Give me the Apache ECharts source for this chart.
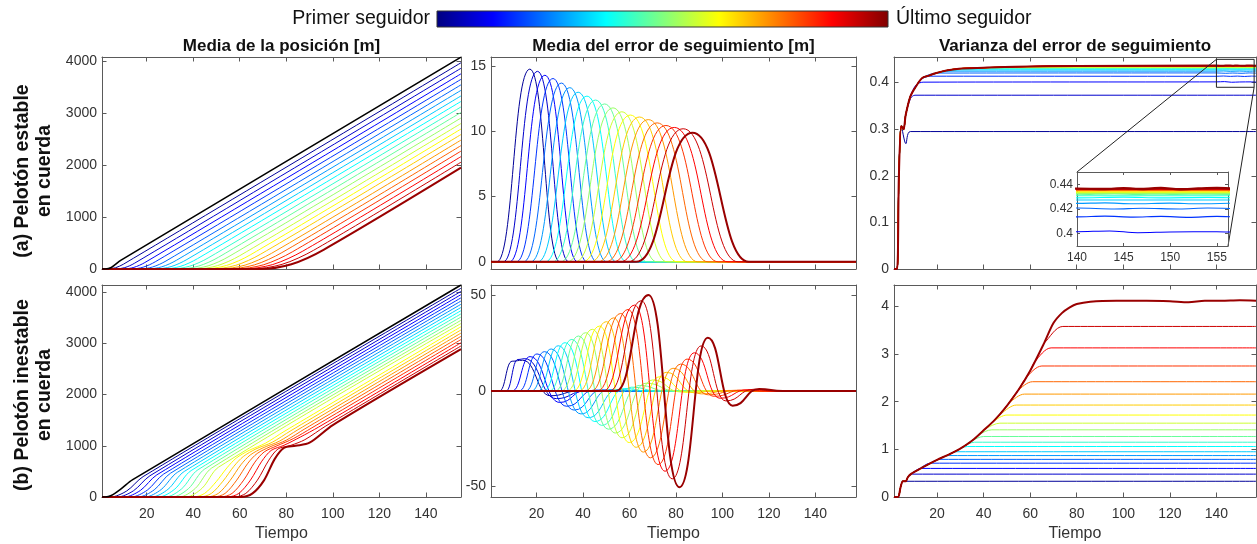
<!DOCTYPE html>
<html>
<head>
<meta charset="utf-8">
<script src="https://cdn.jsdelivr.net/npm/echarts@6/dist/echarts.min.js"></script>
<style>
html,body{margin:0;padding:0;background:#fff;}
#c{width:1257px;height:544px;}
</style>
</head>
<body>
<div id="c"></div>
<script>
// ---------- data ----------
// follower colours (jet, 20 levels) and leader colour
const followerColors = ['#000099','#0000cc','#0000ff','#0033ff','#0066ff','#0099ff','#00ccff','#00ffff','#33ffcc','#66ff99','#99ff66','#ccff33','#ffff00','#ffcc00','#ff9900','#ff6600','#ff3300','#ff0000','#cc0000','#990000'];
const leaderColor = '#000000';
const timeTicks = [20, 40, 60, 80, 100, 120, 140];

// (a) mean position: leader path; per follower departure, knee, start of the straight part and final value
const posA_leader = [[2.2,0],[4.8,30],[9,170],[155.1,4078]];
const posA_depart = [3.0,6.5,9.9,13.3,16.8,20.2,23.6,27.0,30.5,33.9,37.3,40.8,44.2,47.6,51.1,54.5,57.9,61.3,64.8,68.2];
const posA_midT = [6.6,10.6,14.5,18.5,22.5,26.5,30.5,34.4,38.4,42.4,46.4,50.4,54.3,58.3,62.3,66.3,70.3,74.2,78.2,82.2];
const posA_midV = [24,27,31,35,38,42,46,49,53,57,60,64,68,71,75,79,82,86,90,93];
const posA_linT = [10.1,14.7,19.2,23.7,28.3,32.8,37.3,41.8,46.4,50.9,55.4,60.0,64.5,69.0,73.6,78.1,82.6,87.1,91.7,96.2];
const posA_linV = [95,109,124,139,154,168,183,198,212,227,242,256,271,286,300,315,330,344,359,374];
const posA_end = [3969,3863,3756,3650,3544,3438,3331,3225,3119,3013,2906,2800,2694,2588,2481,2375,2269,2163,2056,1950];

// (b) mean position: leader and follower paths [t, m]
const posB_leader = [[2.2,0],[4.8,30],[9,160],[14,340],[155.1,4142]];
const posB = [
 [[4.45,0],[11.45,119],[18.45,398],[155.1,4079]],
 [[7.4,0],[14.4,124],[21.4,415],[155.1,4017]],
 [[10.35,0],[17.35,130],[24.35,432],[155.1,3954]],
 [[13.3,0],[20.3,135],[27.3,448],[155.1,3891]],
 [[16.25,0],[23.25,140],[30.25,465],[155.1,3829]],
 [[19.2,0],[26.2,145],[33.2,482],[155.1,3766]],
 [[22.15,0],[29.15,150],[36.15,499],[155.1,3703]],
 [[25.1,0],[32.1,155],[39.1,516],[155.1,3640]],
 [[28.05,0],[35.05,160],[42.05,533],[155.1,3578]],
 [[31.0,0],[38.0,165],[45.0,549],[155.1,3515]],
 [[33.95,0],[40.95,170],[47.95,566],[155.1,3452]],
 [[36.9,0],[43.9,175],[50.9,583],[155.1,3390]],
 [[39.9,0],[44.9,70],[49.9,300],[54.5,570],[58.5,760],[64,910],[71,1050],[79,1278],[155.1,3327]],
 [[42.8,0],[47.8,70],[52.8,310],[57.5,600],[61.5,790],[67,940],[74,1070],[82,1296],[155.1,3264]],
 [[45.8,0],[50.8,70],[55.8,320],[60.5,630],[64.5,820],[70,960],[77,1090],[85,1314],[155.1,3202]],
 [[48.7,0],[53.7,70],[58.7,330],[63.5,660],[67.5,850],[73,980],[80,1110],[88,1332],[155.1,3139]],
 [[51.7,0],[56.7,70],[61.7,330],[66.5,680],[70.5,880],[76,1000],[83,1140],[91,1351],[155.1,3076]],
 [[54.6,0],[59.6,70],[64.6,330],[69.5,700],[73.5,910],[79,1010],[86,1170],[94,1369],[155.1,3013]],
 [[57.6,0],[62.6,70],[67.6,330],[72.5,720],[76.5,940],[82,1010],[88,1120],[97,1387],[155.1,2951]],
 [[60.5,0],[65.5,70],[70.5,330],[75,740],[79,960],[84,1000],[90,1060],[100,1405],[155.1,2888]]
];

// (a) mean tracking error: one bump per follower
const errA_start = [2.9,5.7,8.4,11.3,14.4,17.5,20.6,23.8,27.0,30.4,33.4,36.7,39.9,43.3,46.5,49.8,53.1,56.1,59.4,62.9];
const errA_peakT = [17.1,20.4,23.6,27.1,30.7,34.3,37.9,41.7,45.4,49.3,52.9,56.7,60.4,64.3,68.1,71.9,75.7,79.3,83.1,87.1];
const errA_peakV = [14.77,14.6,14.3,14.05,13.7,13.35,13.0,12.7,12.4,12.1,11.8,11.5,11.25,11.1,10.9,10.65,10.45,10.3,10.2,9.9];
const errA_end = [30.0,33.9,37.7,41.8,46.0,50.2,54.4,58.8,63.1,67.6,71.8,76.2,80.5,85.0,89.4,93.8,98.2,102.4,106.8,111.4];

// (b) mean tracking error: turning points per follower [t, m]
const errB = [
 [[4.0,0],[9.5,15.6],[14.0,16.1],[26.0,-2.5],[38.0,0]],
 [[6.8,0],[12.0,16.5],[15.0,16.9],[28.5,-4.0],[41.0,0]],
 [[9.5,0],[17.2,18.0],[30.0,-6.0],[41.0,0.3],[48.0,0]],
 [[12.5,0],[20.2,19.4],[33.0,-8.0],[45.0,0.5],[55.0,0]],
 [[15.3,0],[23.4,20.6],[36.2,-10.0],[48.0,0.6],[58.0,0]],
 [[17.8,0],[26.3,22.0],[39.1,-12.0],[51.0,0.7],[61.0,0]],
 [[20.5,0],[29.4,23.7],[42.2,-14.0],[55.0,0.8],[65.0,0]],
 [[23.0,0],[32.3,25.3],[45.1,-16.0],[58.0,1.3],[68.0,0]],
 [[25.5,0],[35.2,27.0],[48.0,-18.0],[61.0,2.0],[72.0,0]],
 [[28.0,0],[38.1,28.8],[50.9,-20.0],[64.3,2.9],[76.0,0]],
 [[30.6,0],[41.1,30.5],[53.9,-22.0],[67.2,4.1],[80.0,0]],
 [[33.1,0],[44.0,32.3],[56.8,-24.5],[70.0,5.8],[82.0,-0.5],[88.0,0]],
 [[35.8,0],[47.1,34.0],[59.9,-27.0],[73.0,7.5],[85.0,-0.8],[92.0,0]],
 [[38.3,0],[50.0,36.3],[62.9,-29.5],[75.8,9.8],[88.0,-1.0],[96.0,0]],
 [[41.0,0],[53.2,38.3],[66.0,-32.0],[78.7,11.9],[91.0,-1.5],[103.0,0.3],[108.0,0]],
 [[43.6,0],[56.2,40.6],[69.0,-35.0],[82.0,14.1],[94.0,-2.0],[106.0,0.4],[111.0,0]],
 [[46.3,0],[59.4,42.7],[72.3,-38.5],[84.8,16.7],[96.5,-2.8],[108.5,0.5],[114.0,0]],
 [[48.8,0],[62.2,45.0],[75.3,-42.0],[87.9,20.0],[99.0,-3.8],[111.0,0.7],[118.0,0]],
 [[51.5,0],[65.1,47.3],[78.4,-46.0],[90.8,23.6],[101.5,-5.2],[113.5,0.9],[122.0,0]],
 [[54.3,0],[68.2,50.3],[81.5,-50.4],[93.7,27.9],[104.4,-7.7],[115.8,1.1],[126.0,0]]
];

// (a) tracking-error variance: common rise (last follower) and where each follower levels off
const varA_envT = [1.5,2.8,3.6,4.65,5.6,6.5,8.5,10.7,13.6,16.5,19.3,24,29.4,40,53.8,80,140,143,145,147,149,151,153,155,157];
const varA_envV = [0,0,0.2,0.307,0.30,0.33,0.37,0.39,0.41,0.415,0.42,0.426,0.43,0.432,0.434,0.4355,0.4365,0.4362,0.4368,0.4362,0.4370,0.4360,0.4366,0.4370,0.4364];
const varA_branchT = [4.65,6.5,8.5,10.7,13.6,16.5,19.3,24,24,29.4,29.4,40,40,40,53.8,53.8,53.8,53.8,53.8];
const varA_tails = [
 [[6.6,0.269],[8.5,0.295],[157,0.295]],
 [[8.6,0.366],[10.5,0.373],[157,0.373]],
 [[11.0,0.395],[14.0,0.401],[140,0.4016],[143.5,0.4022],[146.5,0.4008],[150,0.4014],[155,0.4016],[157,0.4012]],
 [[13.5,0.408],[17.0,0.4138],[140,0.4136],[143,0.4142],[146,0.4134],[149,0.4140],[152,0.4132],[155,0.4140],[157,0.4136]],
 [[20.0,0.4205],[140,0.4208],[144,0.4200],[147,0.4206],[151,0.4200],[154,0.4208],[157,0.4203]],
 [[25.0,0.4246],[140,0.4246],[143,0.4250],[146,0.4242],[150,0.4248],[153,0.4242],[157,0.4248]],
 [[30.0,0.4273],[157,0.4273]],
 [[35.0,0.4292],[140,0.4290],[145,0.4296],[149,0.4290],[154,0.4294],[157,0.4291]],
 [[40.0,0.4308],[157,0.4308]],
 [[45.0,0.4318],[140,0.4316],[144,0.4322],[148,0.4315],[152,0.4320],[157,0.4317]],
 [[50.0,0.4327],[157,0.4327]],
 [[55.0,0.4334],[157,0.4334]],
 [[60.0,0.434],[157,0.434]],
 [[65.0,0.4346],[157,0.4346]],
 [[70.0,0.435],[157,0.435]],
 [[75.0,0.4354],[157,0.4354]],
 [[75.0,0.4357],[157,0.4357]],
 [[75.0,0.436],[157,0.436]],
 [[75.0,0.4362],[157,0.4362]]
];

// (b) tracking-error variance: common rise (last follower) and plateau of each follower
const varB_envT = [1.5,3.2,4.3,5.3,6.5,7.5,9,12.6,16,20,25,29.8,35,39.8,45,49.9,55,60,65.7,70,73.6,77,80,85.8,97,110,120,128,135,142,150,157];
const varB_envV = [0,0,0.2,0.33,0.33,0.42,0.49,0.59,0.68,0.78,0.89,1.01,1.18,1.39,1.63,1.91,2.25,2.65,3.2,3.65,3.86,3.98,4.05,4.10,4.12,4.12,4.11,4.09,4.12,4.12,4.13,4.12];
const varB_branchT = [5.3,7.5,10,13.5,17,20.5,24,28,31,34.5,38,41,44,47.5,51,54.5,58,62,66];
const varB_branchV = [0.33,0.42,0.53,0.63,0.71,0.79,0.87,0.96,1.05,1.17,1.31,1.44,1.58,1.75,1.98,2.22,2.49,2.84,3.23];
const varB_flatT = [6.0,9.5,13,17,21,25,28.5,33,36,40,43.5,47,50,54,57.5,61,65,69,74];
const varB_level = [0.33,0.48,0.60,0.71,0.79,0.87,0.95,1.06,1.15,1.27,1.41,1.55,1.72,1.93,2.16,2.42,2.75,3.13,3.58];

// ---------- layout ----------
const FONT = '"Liberation Sans", Arial, Helvetica, sans-serif';
const AXC = '#5a5a5a';
const TXC = '#333333';

const panels = [
 {box:{left:102, top:57, width:359, height:212}, x:[0.8,155.1], y:[0,4080], xt:timeTicks, yt:[0,1000,2000,3000,4000], xl:false},
 {box:{left:491, top:57, width:365, height:212}, x:[0.4,157.5], y:[-0.55,15.7], xt:timeTicks, yt:[0,5,10,15], xl:false},
 {box:{left:894, top:57, width:362, height:212}, x:[1.5,157], y:[0,0.455], xt:timeTicks, yt:[0,0.1,0.2,0.3,0.4], xl:false},
 {box:{left:102, top:285, width:359, height:212}, x:[0.8,155.1], y:[0,4142], xt:timeTicks, yt:[0,1000,2000,3000,4000], xl:true},
 {box:{left:491, top:285, width:365, height:212}, x:[0.4,157.5], y:[-55.5,55.5], xt:timeTicks, yt:[-50,0,50], xl:true},
 {box:{left:894, top:285, width:362, height:212}, x:[1.5,157], y:[0,4.45], xt:timeTicks, yt:[0,1,2,3,4], xl:true},
 {box:{left:1077, top:172, width:151, height:74}, x:[140,156.2], y:[0.39,0.45], xt:[140,145,150,155], yt:[0.4,0.42,0.44], xl:true, inset:true}
];

const plainNumber = v => String(+Number(v).toFixed(6));

const grid = [], xAxis = [], yAxis = [], series = [];
panels.forEach((p, g) => {
  const zl = p.inset ? 1 : 0;
  const gd = Object.assign({containLabel:false, zlevel:zl}, p.box);
  if (p.inset) { gd.show = true; gd.backgroundColor = '#ffffff'; gd.borderWidth = 0; }
  grid.push(gd);
  const tickLen = p.inset ? 3 : 4.5;
  const fs = p.inset ? 12 : 14;
  const mk = (dim, ticks, range, pos, labels, name) => ({
    type:'value', gridIndex:g, min:range[0], max:range[1], position:pos, zlevel:zl,
    splitLine:{show:false},
    axisLine:{show:true, onZero:false, lineStyle:{color:AXC, width:1}},
    axisTick:{show:true, inside:true, length:tickLen, customValues:ticks, lineStyle:{color:AXC, width:1}},
    axisLabel:{show:labels, customValues:ticks, formatter:plainNumber, color:TXC, fontFamily:FONT, fontSize:fs,
               margin: dim === 'x' ? (p.inset ? 6 : 10) : (p.inset ? 4 : 5)},
    name: name || '', nameLocation:'middle', nameGap:29,
    nameTextStyle:{fontFamily:FONT, fontSize:16, color:TXC}
  });
  const bottomRow = p.xl && !p.inset;
  xAxis.push(mk('x', p.xt, p.x, 'bottom', p.xl, bottomRow ? 'Tiempo' : ''));
  xAxis.push(mk('x', p.xt, p.x, 'top', false));
  yAxis.push(mk('y', p.yt, p.y, 'left', true));
  yAxis.push(mk('y', p.yt, p.y, 'right', false));
});

function line(g, data, color, width, extra) {
  return Object.assign({
    type:'line', xAxisIndex:2*g, yAxisIndex:2*g, data:data,
    symbol:'none', showSymbol:false, silent:true, animation:false, clip:true,
    lineStyle:{color:color, width:width}, itemStyle:{color:color},
    emphasis:{disabled:true}, zlevel: panels[g].inset ? 1 : 0
  }, extra || {});
}
const wOf = i => (i === 19 ? 2 : 1);

// (a) position
for (let i = 0; i < 20; i++) {
  const d = [[panels[0].x[0],0],[posA_depart[i],0],[posA_midT[i],posA_midV[i]],[posA_linT[i],posA_linV[i]],[panels[0].x[1],posA_end[i]]];
  series.push(line(0, d, followerColors[i], wOf(i), {smooth:0.3}));
}
series.push(line(0, [[panels[0].x[0],0]].concat(posA_leader), leaderColor, 1.6, {smooth:0.3}));

// (a) tracking error
for (let i = 0; i < 20; i++) {
  const d = [[panels[1].x[0],0],[errA_start[i],0],[errA_peakT[i],errA_peakV[i]],[errA_end[i],0],[panels[1].x[1],0]];
  series.push(line(1, d, followerColors[i], wOf(i), {smooth:0.5, smoothMonotone:'x'}));
}

// (a) variance, main panel and inset
function varAData(i) {
  if (i === 19) return varA_envT.map((t, k) => [t, varA_envV[k]]);
  const pts = [];
  varA_envT.forEach((t, k) => { if (t <= varA_branchT[i]) pts.push([t, varA_envV[k]]); });
  return pts.concat(varA_tails[i]);
}
for (let i = 0; i < 20; i++) series.push(line(2, varAData(i), followerColors[i], wOf(i), {smooth:0.3}));
for (let i = 0; i < 20; i++) series.push(line(6, varAData(i), followerColors[i], i === 19 ? 2.4 : 1.1, {smooth:0.3}));

// (b) position
for (let i = 0; i < 20; i++) {
  series.push(line(3, [[panels[3].x[0],0]].concat(posB[i]), followerColors[i], wOf(i), {smooth:0.3}));
}
series.push(line(3, [[panels[3].x[0],0]].concat(posB_leader), leaderColor, 1.6, {smooth:0.3}));

// (b) tracking error
for (let i = 0; i < 20; i++) {
  const d = [[panels[4].x[0],0]].concat(errB[i], [[panels[4].x[1],0]]);
  series.push(line(4, d, followerColors[i], wOf(i), {smooth:0.5, smoothMonotone:'x'}));
}

// (b) variance
function varBData(i) {
  if (i === 19) return varB_envT.map((t, k) => [t, varB_envV[k]]);
  const pts = [];
  varB_envT.forEach((t, k) => { if (t < varB_branchT[i]) pts.push([t, varB_envV[k]]); });
  return pts.concat([[varB_branchT[i], varB_branchV[i]],[varB_flatT[i], varB_level[i]],[157, varB_level[i]]]);
}
for (let i = 0; i < 20; i++) series.push(line(5, varBData(i), followerColors[i], wOf(i), {smooth:0.3}));

// ---------- text and colour bar ----------
const centerX = p => p.box.left + p.box.width / 2;
const txt = (x, y, text, font, align, extra) => Object.assign({
  type:'text', x:x, y:y, silent:true,
  style:{text:text, font:font, fill:'#111', align:align, textAlign:align, verticalAlign:'middle', textVerticalAlign:'middle', lineHeight:22}
}, extra || {});

const graphic = [
  {type:'rect', shape:{x:437, y:11, width:451, height:16}, silent:true,
   style:{fill:new echarts.graphic.LinearGradient(0,0,1,0,[
     {offset:0, color:'rgb(0,0,128)'},{offset:0.125, color:'rgb(0,0,255)'},{offset:0.375, color:'rgb(0,255,255)'},
     {offset:0.625, color:'rgb(255,255,0)'},{offset:0.875, color:'rgb(255,0,0)'},{offset:1, color:'rgb(128,0,0)'}]),
     stroke:'#333', lineWidth:1}},
  txt(430, 19, 'Primer seguidor', '19.5px ' + FONT, 'right'),
  txt(896, 19, 'Último seguidor', '19.5px ' + FONT, 'left'),
  txt(centerX(panels[0]), 46, 'Media de la posición [m]', 'bold 17px ' + FONT, 'center'),
  txt(centerX(panels[1]), 46, 'Media del error de seguimiento [m]', 'bold 17px ' + FONT, 'center'),
  txt(centerX(panels[2]), 46, 'Varianza del error de seguimiento', 'bold 17px ' + FONT, 'center'),
  txt(34, 171, '(a) Pelotón estable\nen cuerda', 'bold 19.5px ' + FONT, 'center', {rotation:Math.PI/2}),
  txt(34, 395, '(b) Pelotón inestable\nen cuerda', 'bold 19.5px ' + FONT, 'center', {rotation:Math.PI/2})
];

const chart = echarts.init(document.getElementById('c'), null, {renderer:'canvas', width:1257, height:544});
chart.setOption({animation:false, backgroundColor:'#ffffff', grid, xAxis, yAxis, series, graphic});

// zoom box on the variance panel and its links to the inset
const inset = panels[6];
const a0 = chart.convertToPixel({xAxisIndex:4, yAxisIndex:4}, [inset.x[0], inset.y[1]]);
const a1 = chart.convertToPixel({xAxisIndex:4, yAxisIndex:4}, [inset.x[1], inset.y[0]]);
const b0 = chart.convertToPixel({xAxisIndex:12, yAxisIndex:12}, [inset.x[0], inset.y[1]]);
const b1 = chart.convertToPixel({xAxisIndex:12, yAxisIndex:12}, [inset.x[1], inset.y[0]]);
chart.setOption({graphic: graphic.concat([
  {type:'rect', zlevel:1, silent:true, shape:{x:a0[0], y:a0[1], width:a1[0]-a0[0], height:a1[1]-a0[1]}, style:{fill:'none', stroke:'#222', lineWidth:1}},
  {type:'line', zlevel:1, silent:true, shape:{x1:a0[0], y1:a0[1], x2:b0[0], y2:b0[1]}, style:{stroke:'#222', lineWidth:1}},
  {type:'line', zlevel:1, silent:true, shape:{x1:a1[0], y1:a1[1], x2:b1[0], y2:b1[1]}, style:{stroke:'#222', lineWidth:1}}
])});
</script>
</body>
</html>
